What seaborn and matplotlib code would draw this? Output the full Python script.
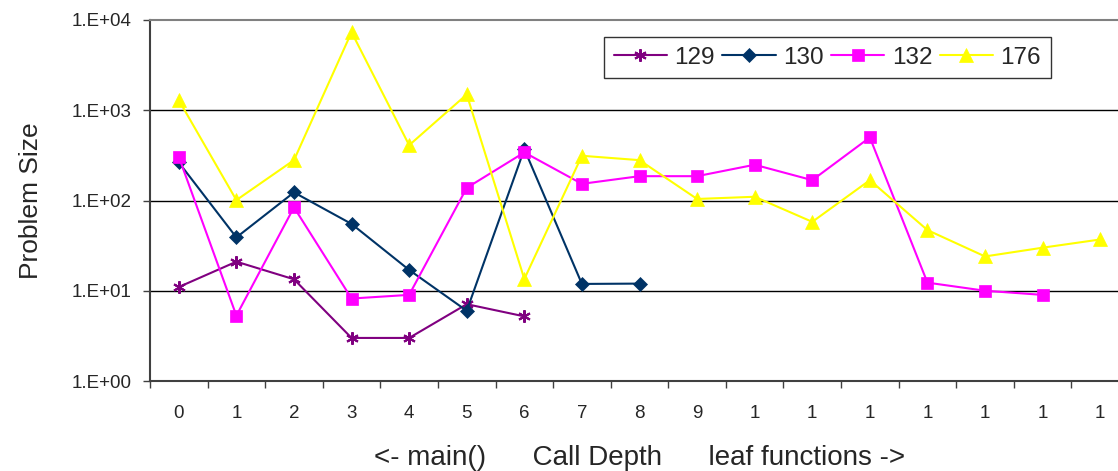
import numpy as np
import pandas as pd
import matplotlib
matplotlib.use("Agg")
import matplotlib.pyplot as plt
from matplotlib.ticker import FixedLocator, FixedFormatter
import seaborn as sns

# Valores (escala log)
depth_labels = ["0", "1", "2", "3", "4", "5", "6", "7", "8", "9",
                "1", "1", "1", "1", "1", "1", "1"]
s129 = [11, 21, 13.4, 3.0, 3.0, 7.1, 5.2]
s130 = [264, 39, 123, 55, 17, 6.0, 371, 11.9, 12]
s132 = [305, 5.3, 84, 8.2, 9.0, 138, 341, 153, 186, 186, 249, 168, 500, 12.3, 10, 9.0]
s176 = [1294, 101, 280, 7330, 410, 1496, 13.5, 313, 280, 104, 110, 58, 168, 47, 24, 30, 37]
series_names = ["129", "130", "132", "176"]
ytick_vals = [1, 10, 100, 1000, 10000]
ytick_labels = ["1.E+00", "1.E+01", "1.E+02", "1.E+03", "1.E+04"]

colores = {"129": "#800080", "130": "#003366", "132": "#FF00FF", "176": "#FFFF00"}
marcadores = {"129": (6, 2, 0), "130": "D", "132": "s", "176": "^"}
tamanos = {"129": 9, "130": 7, "132": 8, "176": 10}

# DataFrame largo
filas = []
for nombre, vals in zip(series_names, [s129, s130, s132, s176]):
    for i, v in enumerate(vals):
        filas.append({"depth": i, "size": v, "serie": nombre})
df = pd.DataFrame(filas)

sns.set_style("white")
plt.rcParams["font.family"] = ["Liberation Sans", "DejaVu Sans"]

fig = plt.figure(figsize=(11.18, 4.71), dpi=100)
ax = fig.add_axes([150 / 1118, 90 / 471, 979 / 1118, 361 / 471])

for nombre in series_names:
    sub = df[df["serie"] == nombre]
    sns.lineplot(data=sub, x="depth", y="size", ax=ax, color=colores[nombre],
                 marker=marcadores[nombre], markersize=tamanos[nombre],
                 markeredgecolor=colores[nombre], markeredgewidth=1.5 if nombre == "129" else 0.5,
                 linewidth=1.5, label=nombre)

ax.set_yscale("log")
ax.set_ylim(1, 10000)
ax.set_xlim(-0.5, len(depth_labels) - 0.5)

ax.yaxis.set_major_locator(FixedLocator(ytick_vals))
ax.yaxis.set_major_formatter(FixedFormatter(ytick_labels))
ax.yaxis.set_minor_locator(FixedLocator([]))
ax.tick_params(axis="y", which="major", length=5, width=1, color="#404040",
               labelsize=13.5, pad=8, left=True)

ax.set_xticks(range(len(depth_labels)))
ax.set_xticklabels(depth_labels)
ax.set_xticks(np.arange(-0.5, len(depth_labels), 1), minor=True)
ax.tick_params(axis="x", which="major", length=0, labelsize=13.5, pad=17)
ax.tick_params(axis="x", which="minor", length=5, width=1, color="#404040", bottom=True)

for v in ytick_vals[1:-1]:
    ax.axhline(v, color="black", linewidth=1, zorder=0)

ax.spines["top"].set_color("#808080")
ax.spines["top"].set_linewidth(1.5)
ax.spines["left"].set_color("#404040")
ax.spines["left"].set_linewidth(1.5)
ax.spines["bottom"].set_color("#404040")
ax.spines["bottom"].set_linewidth(1.5)
ax.spines["right"].set_visible(False)

ax.set_ylabel("Problem Size", fontsize=19, labelpad=21)
ax.set_xlabel("<- main()      Call Depth      leaf functions ->", fontsize=20, labelpad=17)

leg = ax.legend(ncol=4, loc="upper left", bbox_to_anchor=((604 - 150) / 979, (381 - 37) / 361),
                fontsize=17.5, frameon=True, fancybox=False, edgecolor="black",
                handlelength=2.2, handletextpad=0.3, columnspacing=0.3, borderpad=0.4,
                borderaxespad=0)
leg.get_frame().set_linewidth(1)

fig.savefig("out.png", dpi=100)
